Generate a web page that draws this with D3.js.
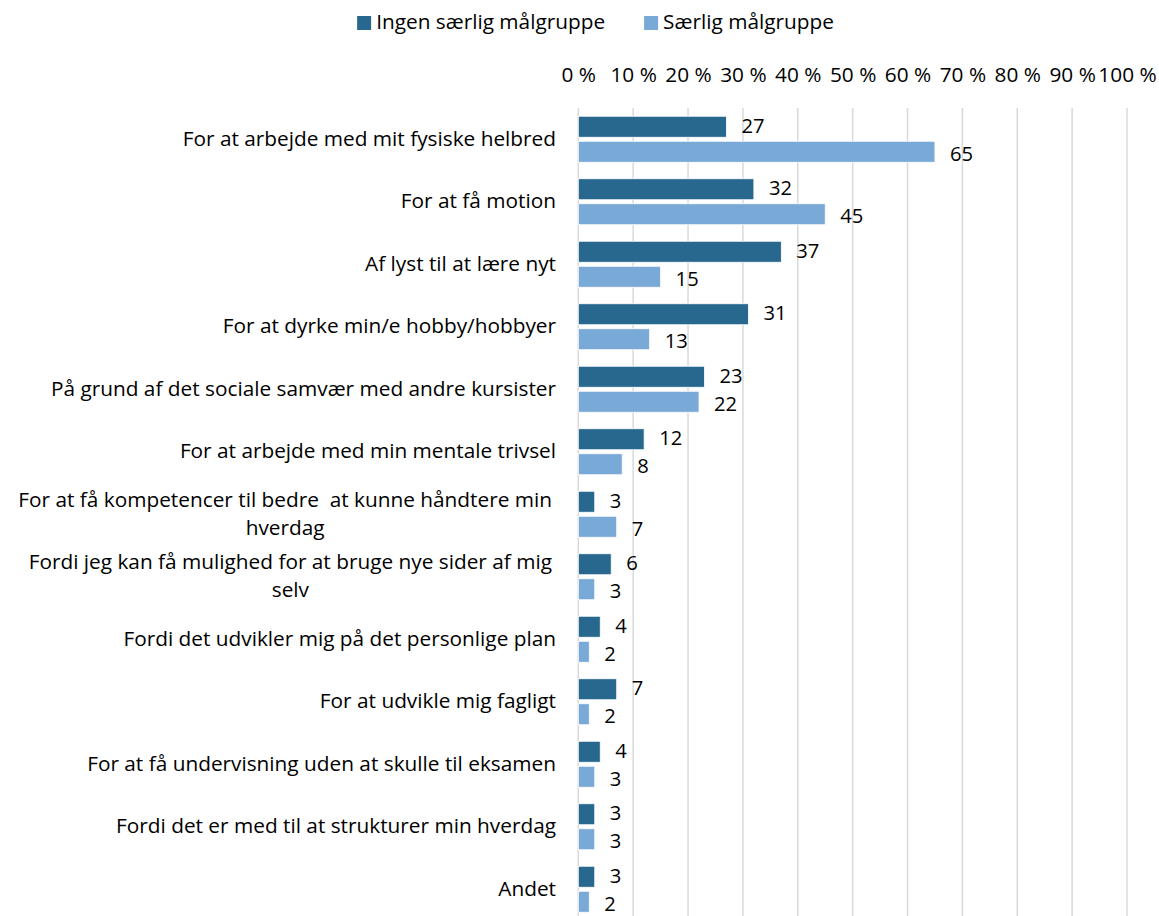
<!DOCTYPE html>
<html>
<head>
<meta charset="utf-8">
<script src="https://cdn.jsdelivr.net/npm/d3@7"></script>
<style>
  html, body { margin: 0; padding: 0; background: #fff; }
  svg { display: block; }
  text { font-family: "Open Sans", "Lato", sans-serif; fill: #000; white-space: pre; }
</style>
</head>
<body>
<svg id="chart" width="1159" height="916"></svg>
<script>
const categories = [
  "For at arbejde med mit fysiske helbred",
  "For at få motion",
  "Af lyst til at lære nyt",
  "For at dyrke min/e hobby/hobbyer",
  "På grund af det sociale samvær med andre kursister",
  "For at arbejde med min mentale trivsel",
  "For at få kompetencer til bedre  at kunne håndtere min\nhverdag",
  "Fordi jeg kan få mulighed for at bruge nye sider af mig\nselv",
  "Fordi det udvikler mig på det personlige plan",
  "For at udvikle mig fagligt",
  "For at få undervisning uden at skulle til eksamen",
  "Fordi det er med til at strukturer min hverdag",
  "Andet"
];
const seriesNames = ["Ingen særlig målgruppe", "Særlig målgruppe"];
const ingenValues = [27, 32, 37, 31, 23, 12, 3, 6, 4, 7, 4, 3, 3];
const saerligValues = [65, 45, 15, 13, 22, 8, 7, 3, 2, 2, 3, 3, 2];
const tickValues = [0, 10, 20, 30, 40, 50, 60, 70, 80, 90, 100];
const colors = ["#28688f", "#79a9d7"];

const svg = d3.select("#chart");
const fontSize = 20.8;
const valueFontSize = 20.2;
const FONT = "'Open Sans', Lato, sans-serif";

const x = d3.scaleLinear().domain([0, 100]).range([578.3, 1127]);
const y = d3.scaleBand().domain(categories.map((d, i) => i)).range([108, 108 + 62.5 * categories.length]).paddingInner(0).paddingOuter(0);
const barH = 21, barGap = 4;
const groupTop = i => y(i) + (y.bandwidth() - (2 * barH + barGap)) / 2;

// gridlines
svg.append("g").selectAll("line").data(tickValues).join("line")
  .attr("x1", d => x(d)).attr("x2", d => x(d))
  .attr("y1", 108).attr("y2", 916)
  .attr("stroke", "#d9d9d9").attr("stroke-width", 1.5);

// top axis labels
const axis = d3.axisTop(x).tickValues(tickValues).tickFormat(d => d + " %").tickSize(0);
const ax = svg.append("g").attr("transform", "translate(0,85)").call(axis);
ax.select(".domain").remove();
ax.selectAll("text").attr("font-size", fontSize).attr("font-family", FONT).attr("fill", "#000");

// bars
const series = [ingenValues, saerligValues];
series.forEach((vals, s) => {
  const g = svg.append("g");
  g.selectAll("rect").data(vals).join("rect")
    .attr("x", x(0))
    .attr("y", (d, i) => groupTop(i) + s * (barH + barGap))
    .attr("width", d => x(d) - x(0))
    .attr("height", barH)
    .attr("fill", colors[s])
    .attr("stroke", "#ffffff").attr("stroke-width", 0.8);
  g.selectAll("text").data(vals).join("text")
    .attr("x", d => x(d) + 15)
    .attr("y", (d, i) => groupTop(i) + s * (barH + barGap) + barH / 2 + (s === 0 ? -1.5 : 1.5))
    .attr("dy", "0.36em")
    .attr("font-size", valueFontSize)
    .text(d => d);
});

// category labels
const labelRight = 556;
const lg = svg.append("g");
categories.forEach((c, i) => {
  const lines = c.split("\n");
  const cy = y(i) + y.bandwidth() / 2;
  if (lines.length === 1) {
    lg.append("text").attr("x", labelRight).attr("y", cy + 1)
      .attr("text-anchor", "end").attr("dominant-baseline", "middle")
      .attr("font-size", fontSize).text(c);
  } else {
    const t = lg.append("text").attr("font-size", fontSize).attr("text-anchor", "middle");
    const tmp = lines.map(l => {
      const tt = lg.append("text").attr("font-size", fontSize).text(l);
      const w = tt.node().getComputedTextLength(); tt.remove(); return w;
    });
    const maxW = d3.max(tmp);
    const cx = labelRight - 4 - maxW / 2;
    const lh = 28;
    lines.forEach((l, k) => {
      t.append("tspan").attr("x", cx).attr("y", cy + (k - (lines.length - 1) / 2) * lh + 1)
        .attr("dominant-baseline", "middle").text(l);
    });
  }
});

// legend
const leg = svg.append("g");
let lx = 0;
seriesNames.forEach((n, s) => {
  const it = leg.append("g").attr("transform", `translate(${lx},0)`);
  it.append("rect").attr("x", 0).attr("y", 16).attr("width", 14).attr("height", 14).attr("fill", colors[s]);
  const t = it.append("text").attr("x", 19).attr("y", 23).attr("dominant-baseline", "middle").attr("font-size", fontSize).text(n);
  const w = 19 + t.node().getComputedTextLength();
  lx += w + 39;
});
const totalW = lx - 39;
leg.attr("transform", `translate(${595.5 - totalW / 2},0)`);
</script>
</body>
</html>
